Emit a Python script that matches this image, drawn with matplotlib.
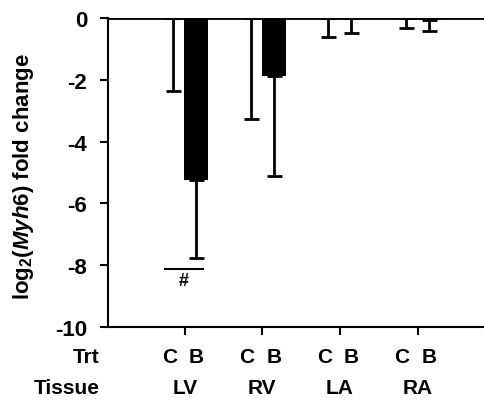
import matplotlib
matplotlib.use("Agg")
import matplotlib.pyplot as plt
import numpy as np

plt.rcParams['font.family'] = ['Liberation Sans', 'DejaVu Sans']
plt.rcParams['font.weight'] = 'bold'
plt.rcParams['mathtext.fontset'] = 'custom'
plt.rcParams['mathtext.rm'] = 'Liberation Sans:bold'
plt.rcParams['mathtext.it'] = 'Liberation Sans:bold:italic'
plt.rcParams['mathtext.bf'] = 'Liberation Sans:bold'

tissues = ["LV", "RV", "LA", "RA"]
trt = ["C", "B"]
control_vals = [0.0, 0.0, 0.0, 0.0]
control_err = [2.36, 3.27, 0.63, 0.32]
treated_vals = [-5.25, -1.87, 0.0, -0.08]
treated_err = [2.52, 3.23, 0.49, 0.34]
yticks = [0, -2, -4, -6, -8, -10]

fig = plt.figure(figsize=(4.85, 4.02), dpi=100)
ax = fig.add_axes([108/485, 1-328/402, 1-108/485, (328-19)/402])

x = np.arange(len(tissues))
off = 0.148
w = 0.31
ax.bar(x - off, control_vals, w, color='white', edgecolor='black', linewidth=0, zorder=2)
ax.bar(x + off, treated_vals, w, color='black', edgecolor='black', linewidth=0, zorder=2)
# one-sided (downward) error bars
ax.errorbar(x - off, control_vals, yerr=[control_err, [0]*4], fmt='none', ecolor='black',
            elinewidth=2, capsize=5.4, capthick=2, zorder=1)
ax.errorbar(x + off, treated_vals, yerr=[treated_err, [0]*4], fmt='none', ecolor='black',
            elinewidth=2, capsize=5.4, capthick=2, zorder=1)

ax.axhline(0, color='black', lw=2, zorder=4)

ax.set_ylim(-10, 0)
ax.set_xlim(-0.99, 3.87)
ax.set_yticks(yticks)
ax.set_yticklabels([str(v) for v in yticks], fontsize=16, fontweight='bold')
ax.set_xticks(x)
ax.set_xticklabels([])
for s in ['top', 'right']:
    ax.spines[s].set_visible(False)
for s in ['left', 'bottom']:
    ax.spines[s].set_linewidth(1.5)
ax.tick_params(axis='both', direction='out', length=6, width=1.5)
ax.tick_params(axis='y', pad=9)

ax.set_ylabel(r'log$_2$($\mathit{Myh6}$) fold change', fontsize=16, fontweight='bold')
ax.yaxis.set_label_coords(-0.19, 0.49)

# significance marker
ax.plot([x[0] - 0.26, x[0] + 0.23], [-8.12, -8.12], color='black', lw=1.5, clip_on=False)
ax.text(x[0] - 0.02, -8.22, '#', ha='center', va='top', fontsize=13, fontweight='bold')

trans = ax.get_xaxis_transform()
row1_y = -0.095
row2_y = -0.195
ax.text(-1.1, row1_y, 'Trt', transform=trans, ha='right', va='center', fontsize=15, fontweight='bold')
ax.text(-1.1, row2_y, 'Tissue', transform=trans, ha='right', va='center', fontsize=15, fontweight='bold')
for i, t in enumerate(tissues):
    ax.text(x[i] - 0.2, row1_y, trt[0], transform=trans, ha='center', va='center', fontsize=15, fontweight='bold')
    ax.text(x[i] + 0.15, row1_y, trt[1], transform=trans, ha='center', va='center', fontsize=15, fontweight='bold')
    ax.text(x[i], row2_y, t, transform=trans, ha='center', va='center', fontsize=15, fontweight='bold')

fig.savefig('out.png', dpi=100)
